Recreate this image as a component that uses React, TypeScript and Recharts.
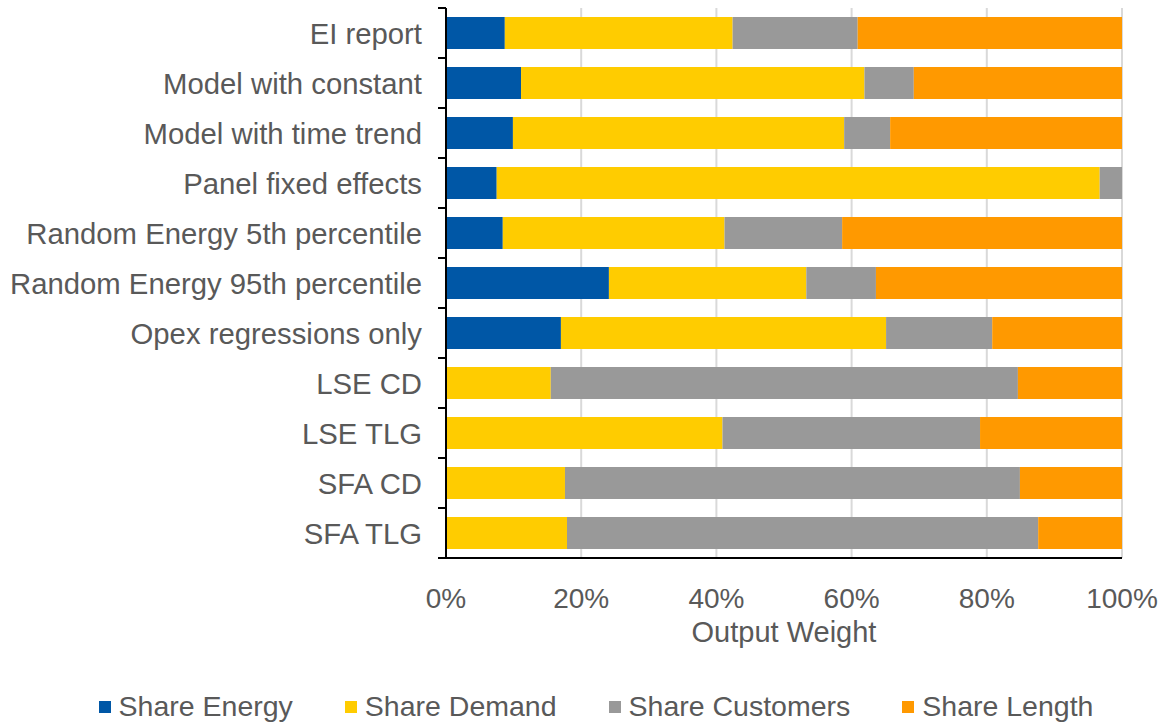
import React from "react"
import { BarChart, Bar, XAxis, YAxis, CartesianGrid, Legend } from "recharts"

const categories = [
  "EI report",
  "Model with constant",
  "Model with time trend",
  "Panel fixed effects",
  "Random Energy 5th percentile",
  "Random Energy 95th percentile",
  "Opex regressions only",
  "LSE CD",
  "LSE TLG",
  "SFA CD",
  "SFA TLG",
]

// output weights in %
const shareEnergy = [8.7, 11.1, 9.9, 7.5, 8.4, 24.1, 17.0, 0, 0, 0, 0]
const shareDemand = [33.7, 50.8, 49.0, 89.2, 32.8, 29.2, 48.1, 15.5, 40.9, 17.6, 17.9]
const shareCustomers = [18.5, 7.3, 6.8, 3.3, 17.4, 10.3, 15.7, 69.1, 38.1, 67.3, 69.7]
const shareLength = [39.1, 30.8, 34.3, 0, 41.4, 36.4, 19.2, 15.4, 21.0, 15.1, 12.4]

const xTicks = [0, 20, 40, 60, 80, 100]

const series = [
  { key: "energy", name: "Share Energy", color: "#0057A6" },
  { key: "demand", name: "Share Demand", color: "#FFCC00" },
  { key: "customers", name: "Share Customers", color: "#999999" },
  { key: "length", name: "Share Length", color: "#FF9900" },
]

const data = categories.map((name, i) => ({
  name,
  energy: shareEnergy[i],
  demand: shareDemand[i],
  customers: shareCustomers[i],
  length: shareLength[i],
}))

const FONT = "'Liberation Sans', Arial, sans-serif"
const TEXT = "#595959"

const CategoryTick = (props: any) => {
  const { x, y, payload } = props
  return (
    <g>
      <text x={x + 1} y={y} textAnchor="end" dominantBaseline="central" fill={TEXT} fontSize={29.3} fontFamily={FONT}>
        {payload.value}
      </text>
      <line x1={x + 17} x2={x + 25} y1={y - 25} y2={y - 25} stroke="#000" strokeWidth={2} />
      <line x1={x + 17} x2={x + 25} y1={y + 25} y2={y + 25} stroke="#000" strokeWidth={2} />
    </g>
  )
}

const renderLegend = (props: any) => {
  const order = series.map((s) => s.name)
  const payload = [...(props.payload || [])].sort((a: any, b: any) => order.indexOf(a.value) - order.indexOf(b.value))
  return (
    <div style={{ display: "flex", justifyContent: "center", gap: 52, fontFamily: FONT, fontSize: 28.5, color: TEXT }}>
      {payload.map((entry: any) => (
        <span key={entry.value} style={{ display: "flex", alignItems: "center" }}>
          <span style={{ width: 12, height: 12, background: entry.color, marginRight: 8, display: "inline-block" }} />
          {entry.value}
        </span>
      ))}
    </div>
  )
}

export default function App() {
  return (
    <div style={{ position: "absolute", left: 0, top: 0, background: "#fff" }}>
      <BarChart
        width={1166}
        height={724}
        data={data}
        layout="vertical"
        margin={{ top: 8, right: 44, left: 0, bottom: 0 }}
      >
        <CartesianGrid horizontal={false} stroke="#D9D9D9" strokeWidth={2} />
        <XAxis
          type="number"
          domain={[0, 100]}
          ticks={xTicks}
          tickFormatter={(v) => `${v}%`}
          tickLine={false}
          tickSize={0}
          tickMargin={30}
          height={132}
          axisLine={{ stroke: "#000", strokeWidth: 2 }}
          tick={{ fill: TEXT, fontSize: 28, fontFamily: FONT }}
          label={{ value: "Output Weight", position: "insideBottom", offset: 48, fill: TEXT, fontSize: 29, fontFamily: FONT }}
        />
        <YAxis
          type="category"
          dataKey="name"
          width={446}
          tickLine={false}
          tickSize={0}
          tickMargin={25}
          interval={0}
          axisLine={{ stroke: "#000", strokeWidth: 2 }}
          tick={<CategoryTick />}
        />
        <Legend verticalAlign="bottom" content={renderLegend} wrapperStyle={{ left: 13, width: 1166, height: 34 }} />
        {series.map((s) => (
          <Bar key={s.key} dataKey={s.key} name={s.name} stackId="a" fill={s.color} barSize={32} isAnimationActive={false} />
        ))}
      </BarChart>
    </div>
  )
}
